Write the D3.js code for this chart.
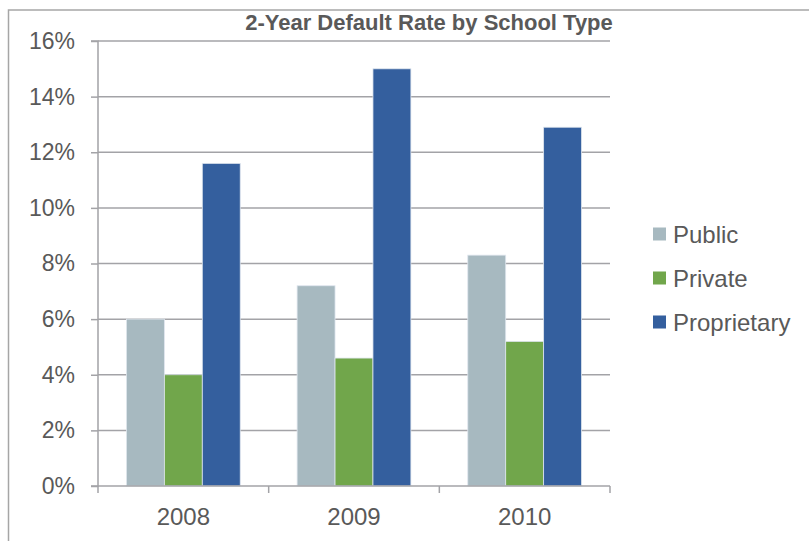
<!DOCTYPE html>
<html><head><meta charset="utf-8">
<script src="https://cdn.jsdelivr.net/npm/d3@7"></script>
<style>body{margin:0;background:#fff}svg{display:block}</style>
</head><body>
<svg id="c" width="809" height="541"></svg>
<script>
const years = ["2008", "2009", "2010"];
const seriesNames = ["Public", "Private", "Proprietary"];
const publicVals = [6.0, 7.2, 8.3];
const privateVals = [4.0, 4.6, 5.2];
const proprietaryVals = [11.6, 15.0, 12.9];
const yTicks = [0, 2, 4, 6, 8, 10, 12, 14, 16];
const colors = ["#a7b9c0", "#71a64b", "#345f9e"];
const title = "2-Year Default Rate by School Type";

(function () {
const seriesVals = [publicVals, privateVals, proprietaryVals];
const svg = d3.select("#c");
const font = "'Liberation Sans', Arial, Helvetica, sans-serif";
const textColor = "#595959";
const gridColor = "#a3a3a7";

// outer frame (cropped)
svg.append("path").attr("d", "M8.5,541 L8.5,10 L809,10")
  .attr("fill", "none").attr("stroke", "#a6a6a6").attr("stroke-width", 1.5);

const pl = 98, pr = 610, pt = 41, pb = 486;
const x0 = d3.scaleBand().domain(years).range([pl, pr]).paddingInner(0).paddingOuter(0);
const y = d3.scaleLinear().domain([0, 16]).range([pb, pt]);
const x1 = d3.scaleBand().domain(seriesNames).range([0, x0.bandwidth()]).paddingOuter(0.75).paddingInner(0);

// gridlines
svg.append("g").selectAll("line").data(yTicks.filter(d => d > 0)).join("line")
  .attr("x1", pl).attr("x2", pr)
  .attr("y1", d => y(d)).attr("y2", d => y(d))
  .attr("stroke", gridColor).attr("stroke-width", 1.5);

// bars
const groups = svg.append("g").selectAll("g").data(years).join("g")
  .attr("transform", d => `translate(${x0(d)},0)`);
groups.selectAll("rect").data((d, i) => seriesNames.map((s, j) => ({s, v: seriesVals[j][i], c: colors[j]})))
  .join("rect")
  .attr("x", d => x1(d.s)).attr("width", x1.bandwidth())
  .attr("y", d => y(d.v)).attr("height", d => y(0) - y(d.v))
  .attr("fill", d => d.c).attr("stroke", "#dfe6ee").attr("stroke-width", 0.8);

// y axis
const yAxis = d3.axisLeft(y).tickValues(yTicks).tickFormat(d => d + "%").tickSize(7).tickPadding(16);
const ya = svg.append("g").attr("transform", `translate(${pl},0)`).call(yAxis);
ya.select(".domain").attr("stroke", gridColor).attr("stroke-width", 1.5).attr("d", `M-7,${pt}H0V${pb}H-7`);
ya.selectAll(".tick line").attr("stroke", gridColor).attr("stroke-width", 1.5);
ya.selectAll(".tick text").attr("fill", textColor).style("font-family", font).style("font-size", "23px");

// x axis
const xAxis = d3.axisBottom(x0).tickSize(0).tickPadding(22);
const xa = svg.append("g").attr("transform", `translate(0,${pb})`).call(xAxis);
xa.select(".domain").attr("stroke", gridColor).attr("stroke-width", 1.5).attr("d", `M${pl},0H${pr}`);
xa.selectAll(".tick text").attr("fill", textColor).style("font-family", font).style("font-size", "24px");
xa.append("g").selectAll("line").data(years.map(d => x0(d)).concat([pr])).join("line")
  .attr("x1", d => d).attr("x2", d => d).attr("y1", 0).attr("y2", 7)
  .attr("stroke", gridColor).attr("stroke-width", 1.5);

// title
svg.append("text").attr("x", 429).attr("y", 30).attr("text-anchor", "middle")
  .attr("fill", textColor).style("font-family", font).style("font-weight", "bold").style("font-size", "22px")
  .text(title);

// legend
const leg = svg.append("g").selectAll("g").data(seriesNames).join("g")
  .attr("transform", (d, i) => `translate(653,${234 + i * 44})`);
leg.append("rect").attr("x", 0).attr("y", -6.5).attr("width", 13).attr("height", 13)
  .attr("fill", (d, i) => colors[i]);
leg.append("text").attr("x", 20).attr("y", 8.5).attr("fill", textColor)
  .style("font-family", font).style("font-size", "24px").text(d => d);
})();
</script>
</body></html>
